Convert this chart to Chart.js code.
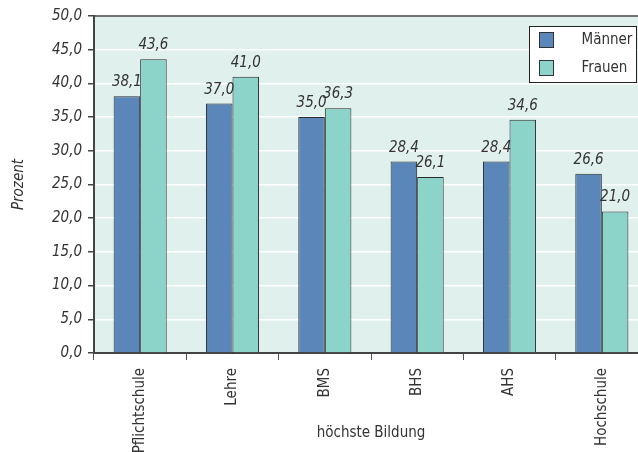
<!DOCTYPE html>
<html lang="de">
<head>
<meta charset="utf-8">
<title>Prozent nach höchster Bildung</title>
<script src="https://cdn.jsdelivr.net/npm/chart.js@4/dist/chart.umd.min.js"></script>
<style>
  html, body { margin: 0; padding: 0; background: #ffffff; }
  #wrap { width: 638px; height: 452px; overflow: hidden; position: relative; }
  canvas { display: block; }
</style>
</head>
<body>
<div id="wrap"><canvas id="chart" width="660" height="452"></canvas></div>
<script>
// Kategorien und Werte (Prozent)
const categories = ['Pflichtschule', 'Lehre', 'BMS', 'BHS', 'AHS', 'Hochschule'];
const maenner = [38.1, 37.0, 35.0, 28.4, 28.4, 26.6];
const frauen = [43.6, 41.0, 36.3, 26.1, 34.6, 21.0];
const seriesNames = ['Männer', 'Frauen'];
const yTicks = [0, 5, 10, 15, 20, 25, 30, 35, 40, 45, 50];

const FONT = '"DejaVu Sans Condensed", "Liberation Sans", sans-serif';
const TEXT = '#333333';
const fmt = v => v.toFixed(1).replace('.', ',');

// Hintergrund der Zeichenfläche und obere Rahmenlinie
const plotFrame = {
  id: 'plotFrame',
  beforeDraw(chart) {
    const { ctx, chartArea: a } = chart;
    ctx.save();
    ctx.fillStyle = '#e0f0ec';
    ctx.fillRect(a.left, a.top, a.right - a.left, a.bottom - a.top);
    ctx.restore();
  },
  afterDraw(chart) {
    const { ctx, chartArea: a } = chart;
    ctx.save();
    ctx.strokeStyle = '#444444';
    ctx.lineWidth = 1.5;
    ctx.beginPath();
    ctx.moveTo(a.left, a.top);
    ctx.lineTo(a.right, a.top);
    ctx.stroke();
    ctx.restore();
  }
};

// Werte über den Balken
const valueLabels = {
  id: 'valueLabels',
  afterDatasetsDraw(chart) {
    const { ctx } = chart;
    ctx.save();
    ctx.font = 'italic 15px ' + FONT;
    ctx.fillStyle = TEXT;
    ctx.textAlign = 'center';
    ctx.textBaseline = 'alphabetic';
    chart.data.datasets.forEach((ds, i) => {
      chart.getDatasetMeta(i).data.forEach((bar, j) => {
        ctx.fillText(fmt(ds.data[j]), bar.x, bar.y - 10);
      });
    });
    ctx.restore();
  }
};

// Legende im Kasten oben rechts
const boxLegend = {
  id: 'boxLegend',
  afterDraw(chart) {
    const { ctx } = chart;
    const x = 529.5, y = 26.5, w = 107, h = 56;
    ctx.save();
    ctx.fillStyle = '#ffffff';
    ctx.fillRect(x, y, w, h);
    ctx.strokeStyle = '#222222';
    ctx.lineWidth = 1;
    ctx.strokeRect(x, y, w, h);
    ctx.font = '15px ' + FONT;
    ctx.textBaseline = 'middle';
    ctx.textAlign = 'left';
    chart.data.datasets.forEach((ds, i) => {
      const sy = y + 6 + i * 28;
      ctx.fillStyle = ds.backgroundColor;
      ctx.fillRect(x + 10, sy, 14, 15);
      ctx.strokeStyle = '#333333';
      ctx.strokeRect(x + 10, sy, 14, 15);
      ctx.fillStyle = TEXT;
      ctx.fillText(ds.label, x + 52, sy + 8);
    });
    ctx.restore();
  }
};

new Chart(document.getElementById('chart'), {
  type: 'bar',
  data: {
    labels: categories,
    datasets: [
      { label: seriesNames[0], data: maenner, backgroundColor: '#5b86ba', borderColor: '#2a2a2a', borderWidth: 1 },
      { label: seriesNames[1], data: frauen, backgroundColor: '#8cd4ca', borderColor: '#2a2a2a', borderWidth: 1 }
    ]
  },
  options: {
    responsive: false,
    animation: false,
    devicePixelRatio: 1,
    categoryPercentage: 0.575,
    barPercentage: 1.0,
    layout: { padding: { top: 16, right: 12, left: 0, bottom: 0 } },
    plugins: {
      legend: { display: false },
      tooltip: { enabled: false }
    },
    scales: {
      x: {
        offset: true,
        afterFit(scale) { scale.height = 99; },
        border: { color: '#444444', width: 2 },
        grid: { display: true, drawOnChartArea: false, drawTicks: true, tickLength: 7, tickColor: '#555555', offset: true },
        ticks: { color: TEXT, font: { family: FONT, size: 15 }, minRotation: 90, maxRotation: 90, padding: 8, autoSkip: false },
        title: { display: true, text: 'höchste Bildung', color: TEXT, font: { family: FONT, size: 15 }, padding: { top: 0, bottom: 10 } }
      },
      y: {
        min: 0,
        max: 50,
        afterFit(scale) { scale.width = 94; },
        afterBuildTicks(scale) { scale.ticks = yTicks.map(v => ({ value: v })); },
        border: { color: '#444444', width: 2 },
        grid: { color: '#ffffff', lineWidth: 1.5, tickColor: '#444444', tickLength: 6 },
        ticks: { color: TEXT, font: { family: FONT, size: 15, style: 'italic' }, padding: 6, callback: v => fmt(v) },
        title: { display: true, text: 'Prozent', color: TEXT, font: { family: FONT, size: 15, style: 'italic' }, padding: { top: 10, bottom: 0 } }
      }
    }
  },
  plugins: [plotFrame, valueLabels, boxLegend]
});
</script>
</body>
</html>
